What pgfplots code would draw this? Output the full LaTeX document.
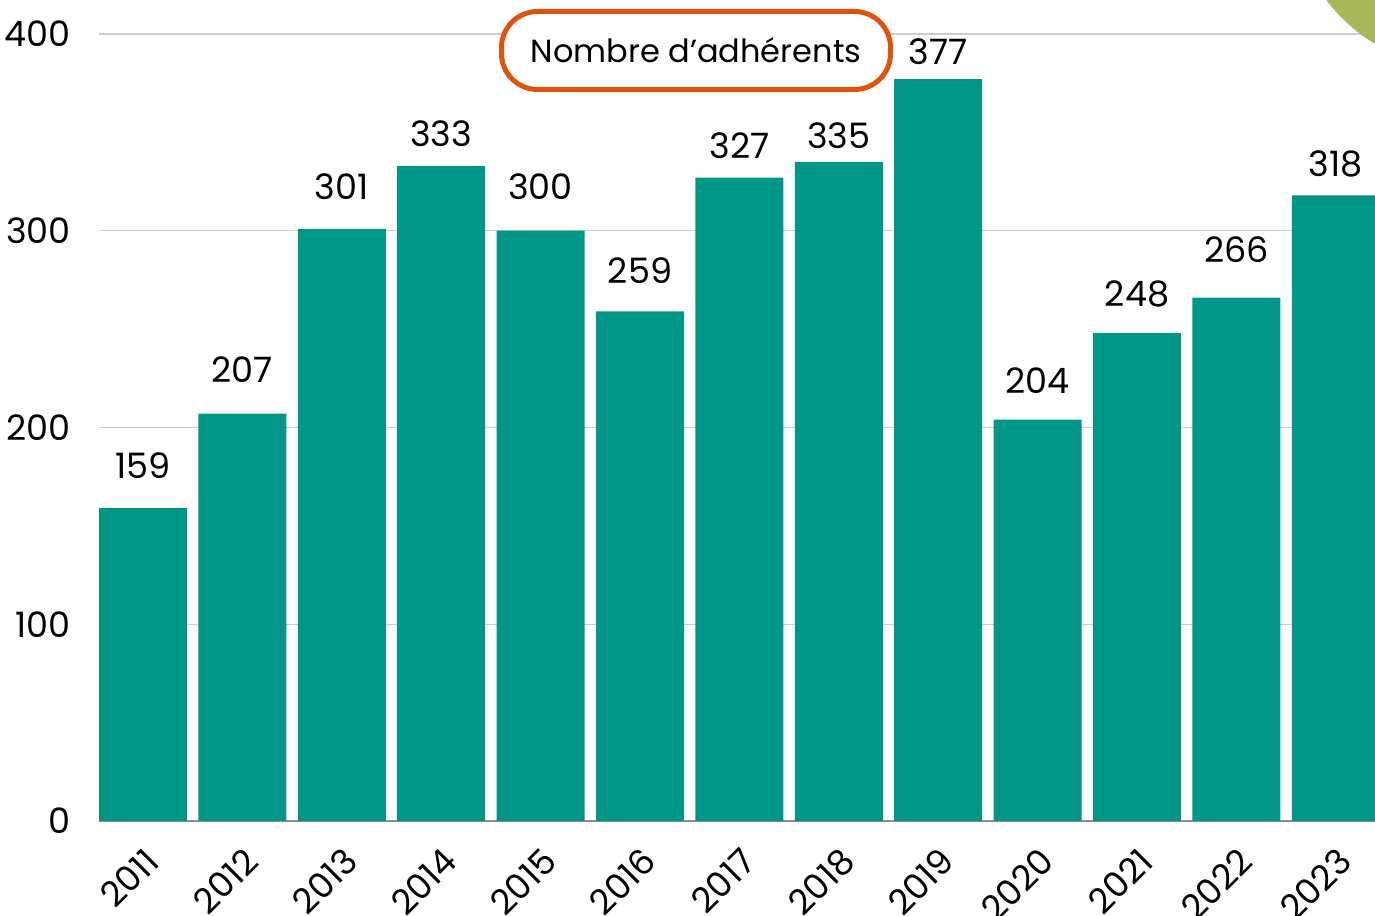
\documentclass[border=0pt]{standalone}
\usepackage{pgfplots}
\pgfplotsset{compat=1.18}
\usepackage{fontspec}
\setmainfont{Poppins}
\definecolor{barteal}{HTML}{009688}
\definecolor{boxorange}{HTML}{E0520E}
\definecolor{leafgreen}{HTML}{A9B85A}
\definecolor{gridgray}{HTML}{CCCCCC}
% year index, members, label lift (pt)
\pgfplotstableread{
x y off
0 159 14.5
1 207 15.5
2 301 14.5
3 333 9.5
4 300 15.5
5 259 13.5
6 327 9.5
7 335 6.5
8 377 7
9 204 13
10 248 12.5
11 266 17.5
12 318 9
}\members
\begin{document}
\begin{tikzpicture}
  % page = 1375x915 px, 1 px = 0.5pt
  \path[use as bounding box, clip] (0,0) rectangle (687.5pt,457.5pt);
  \begin{axis}[
      at={(49.5pt,47pt)}, anchor=south west,
      width=640.4pt, height=393.5pt, scale only axis,
      xmin=-0.4427, xmax=12.4427, ymin=0, ymax=400,
      axis lines*=left,
      y axis line style={draw=none},
      x axis line style={draw=black!45, line width=1pt},
      major tick length=0pt,
      xtick={0,...,12},
      xticklabels={2011,2012,2013,2014,2015,2016,2017,2018,2019,2020,2021,2022,2023},
      ytick={0,100,200,300,400},
      ymajorgrids,
      major grid style={draw=gridgray, line width=0.7pt},
      /pgf/number format/assume math mode=true,
      yticklabel style={font=\fontsize{17.5}{20}\selectfont, xshift=-10.5pt},
      xticklabel style={font=\fontsize{17.5}{20}\selectfont,
                        xshift=0pt, yshift=-7.5pt, rotate=45, anchor=north east},
      ybar, bar width=0.885,
      nodes near coords,
      visualization depends on={\thisrow{off} \as \lift},
      every node near coord/.append style={font=\fontsize{17.5}{20}\selectfont,
                                          inner sep=0pt, yshift=\lift pt},
      clip=false,
    ]
    \addplot[fill=barteal, draw=none] table[x=x, y=y] {\members};
  \end{axis}
  \node[draw=boxorange, line width=2.5pt, rounded corners=18pt, fill=white,
        minimum width=194.5pt, minimum height=39pt, inner sep=0pt,
        font=\fontsize{16}{18}\selectfont] at (348pt,432.25pt) {Nombre d'adhérents};
  \fill[leafgreen] (730pt,507.5pt) circle (83.5pt);
\end{tikzpicture}
\end{document}
